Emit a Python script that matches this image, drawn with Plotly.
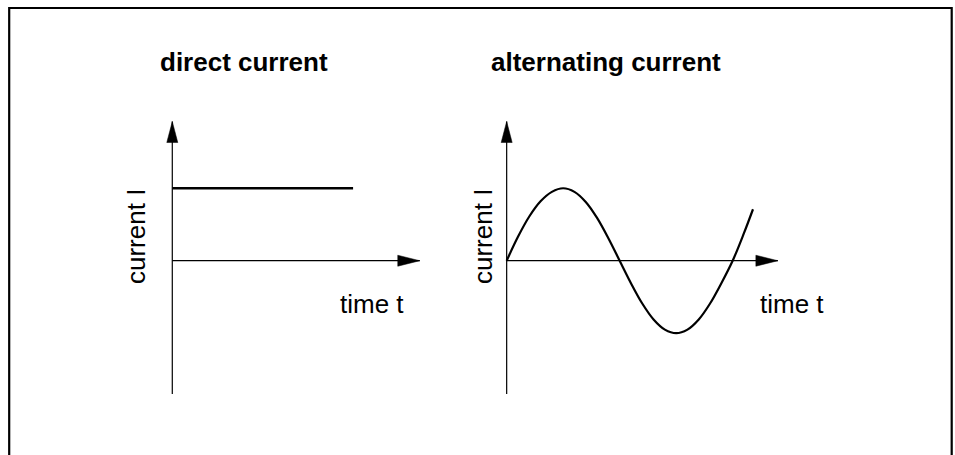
import plotly.graph_objects as go

# ---- data ----------------------------------------------------------------
# time axis in half-periods of the AC wave, current in units of the peak value
PANEL_TITLES = ["direct current", "alternating current"]
Y_LABEL = "current I"
X_LABEL = "time t"

DC_T = [0.0, 1.6]
DC_I = [1.0, 1.0]

AC_T = [0.00, 0.10, 0.20, 0.30, 0.40, 0.50, 0.60, 0.70, 0.80, 0.90, 1.00,
        1.10, 1.20, 1.30, 1.40, 1.50, 1.60, 1.70, 1.80, 1.90, 2.00, 2.10, 2.18]
AC_I = [0.00, 0.33, 0.61, 0.82, 0.95, 1.00, 0.95, 0.81, 0.59, 0.31, 0.00,
        -0.31, -0.59, -0.81, -0.95, -1.00, -0.95, -0.81, -0.59, -0.31, 0.00,
        0.38, 0.71]

# extent of the drawn axes (time end of x arrow, current top/bottom of y axis)
AXIS_T_END = [2.19, 2.40]
AXIS_I_TOP = [1.92, 1.92]
AXIS_I_BOTTOM = [-1.84, -1.84]

# ---- layout geometry -------------------------------------------------------
W, H = 955, 455
FONT = "Liberation Sans, Arial, sans-serif"
INK = "black"


def fx(px):
    return px / W


def fy(py):
    return 1 - py / H


fig = go.Figure()

# two panels: x-domain in px and matching x-range
panels = [
    dict(xd=(115, 455), xr=(-0.507, 2.502)),
    dict(xd=(460, 860), xr=(-0.413, 3.127)),
]
ydom = (100, 420)
yrange = (-2.197, 2.217)

for i, p in enumerate(panels):
    xa = "xaxis" if i == 0 else f"xaxis{i + 1}"
    ya = "yaxis" if i == 0 else f"yaxis{i + 1}"
    fig.layout[xa] = dict(domain=[fx(p["xd"][0]), fx(p["xd"][1])],
                          range=list(p["xr"]), visible=False,
                          anchor="y" if i == 0 else f"y{i + 1}")
    fig.layout[ya] = dict(domain=[fy(ydom[1]), fy(ydom[0])],
                          range=list(yrange), visible=False,
                          anchor="x" if i == 0 else f"x{i + 1}")

refs = [("x", "y"), ("x2", "y2")]

# axes drawn as thin lines
for i, (xr_, yr_) in enumerate(refs):
    tip = AXIS_T_END[i]
    fig.add_trace(go.Scatter(x=[0, tip], y=[0, 0], mode="lines",
                             line=dict(color=INK, width=1.2),
                             xaxis=xr_, yaxis=yr_, hoverinfo="skip"))
    fig.add_trace(go.Scatter(x=[0, 0], y=[AXIS_I_BOTTOM[i], AXIS_I_TOP[i]],
                             mode="lines", line=dict(color=INK, width=1.2),
                             xaxis=xr_, yaxis=yr_, hoverinfo="skip"))
    # arrowheads, sized in pixels and anchored at the axis ends
    fig.add_shape(type="path", xref=xr_, yref=yr_,
                  xsizemode="pixel", ysizemode="pixel",
                  xanchor=tip, yanchor=0,
                  path="M0,0 L-22,5.5 L-22,-5.5 Z",
                  fillcolor=INK, line=dict(color=INK, width=0.5))
    fig.add_shape(type="path", xref=xr_, yref=yr_,
                  xsizemode="pixel", ysizemode="pixel",
                  xanchor=0, yanchor=AXIS_I_TOP[i],
                  path="M0,0 L-5.5,-21 L5.5,-21 Z",
                  fillcolor=INK, line=dict(color=INK, width=0.5))

# current curves
fig.add_trace(go.Scatter(x=DC_T, y=DC_I, mode="lines",
                         line=dict(color=INK, width=2.4),
                         xaxis="x", yaxis="y"))
fig.add_trace(go.Scatter(x=AC_T, y=AC_I, mode="lines",
                         line=dict(color=INK, width=2.2, shape="spline",
                                   smoothing=1.0),
                         xaxis="x2", yaxis="y2"))

# titles and axis labels
title_pos = [(244, 62), (606, 62)]
ylab_pos = [(136, 237), (483, 237)]
xlab_pos = [(372, 304), (792, 304)]
for i in range(2):
    fig.add_annotation(text=f"<b>{PANEL_TITLES[i]}</b>", xref="paper",
                       yref="paper", x=fx(title_pos[i][0]),
                       y=fy(title_pos[i][1]), showarrow=False,
                       xanchor="center", yanchor="middle",
                       font=dict(family=FONT, size=26, color=INK))
    fig.add_annotation(text=Y_LABEL, xref="paper", yref="paper",
                       x=fx(ylab_pos[i][0]), y=fy(ylab_pos[i][1]),
                       showarrow=False, textangle=-90,
                       xanchor="center", yanchor="middle",
                       font=dict(family=FONT, size=26, color=INK))
    fig.add_annotation(text=X_LABEL, xref="paper", yref="paper",
                       x=fx(xlab_pos[i][0]), y=fy(xlab_pos[i][1]),
                       showarrow=False, xanchor="center", yanchor="middle",
                       font=dict(family=FONT, size=26, color=INK))

# open frame around the figure (top and sides)
fig.add_shape(type="path", xref="paper", yref="paper",
              path=(f"M{fx(9.2)},-0.02 L{fx(9.2)},{fy(8)} "
                    f"L{fx(951.7)},{fy(8)} L{fx(951.7)},-0.02"),
              line=dict(color=INK, width=2.2))

fig.update_layout(width=W, height=H, margin=dict(l=0, r=0, t=0, b=0),
                  paper_bgcolor="white", plot_bgcolor="white",
                  showlegend=False)

fig.write_html("out.html")
